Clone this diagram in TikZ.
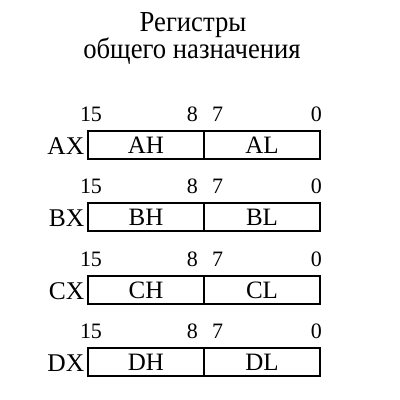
\documentclass[tikz,border=0pt]{standalone}
\usepackage{fontspec}
\setmainfont{Liberation Serif}
\newfontfamily\titlefont[FakeStretch=0.92]{Liberation Serif}
\begin{document}
\begin{tikzpicture}[x=1pt,y=-1pt,
  regbox/.style={draw,line width=1.8pt,minimum width=116pt,minimum height=28pt,text height=22.5pt,text depth=5.5pt,inner sep=0pt,outer sep=0pt,font=\fontsize{25}{25}\selectfont},
  bitnum/.style={inner sep=0pt,font=\fontsize{22}{22}\selectfont},
  reglabel/.style={inner sep=0pt,anchor=base east,font=\fontsize{25.5}{25.5}\selectfont},
  ttl/.style={inner sep=0pt,anchor=base,font=\titlefont\fontsize{29}{29}\selectfont}]
\useasboundingbox (0,0) rectangle (400,400);
\node[ttl] (t1) at (193,31) {Регистры};
\node[ttl] (t2) at (192,58.5) {общего назначения};
\foreach \r/\top in {A/131,B/203,C/276,D/348}{
  \node[regbox,anchor=north west] (\r h) at (88,\top) {\r H};
  \node[regbox,anchor=north west] (\r l) at (204,\top) {\r L};
  \node[reglabel] (\r x) at (84.5,\top+23) {\r X};
  \node[bitnum,anchor=base] (\r n15) at (91,\top-10) {15};
  \node[bitnum,anchor=base east] (\r n8) at (198,\top-10) {8};
  \node[bitnum,anchor=base west] (\r n7) at (212,\top-10) {7};
  \node[bitnum,anchor=base east] (\r n0) at (322,\top-10) {0};
}
\end{tikzpicture}
\end{document}
